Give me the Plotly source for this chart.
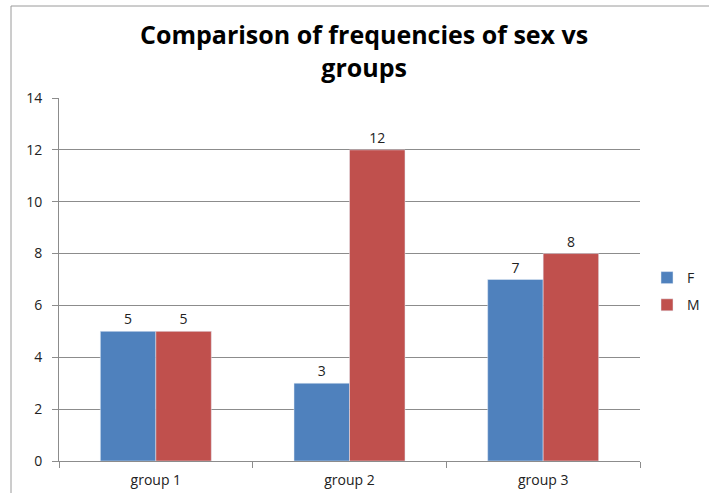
import plotly.graph_objects as go

# Data
groups = ["group 1", "group 2", "group 3"]
female = [5, 3, 7]
male = [5, 12, 8]
y_ticks = [0, 2, 4, 6, 8, 10, 12, 14]

BLUE = "#4F81BD"
RED = "#C0504D"
GRID = "#8C8C8C"
FONT = "Open Sans"
TXT = "#222222"

fig = go.Figure()
fig.add_trace(go.Bar(
    name="F", x=groups, y=female, marker_color=BLUE, legendgroup="F",
    text=[str(v) for v in female], textposition="outside",
    textfont=dict(size=14, color=TXT, family=FONT),
    cliponaxis=False,
))
fig.add_trace(go.Bar(
    name="M", x=groups, y=male, marker_color=RED, legendgroup="M",
    text=[str(v) for v in male], textposition="outside",
    textfont=dict(size=14, color=TXT, family=FONT),
    cliponaxis=False,
))

W, H = 709, 493
L, R, T, B = 59, 69, 98, 32
pw, ph = W - L - R, H - T - B

def px_x(p):
    return (p - L) / pw

def px_y(p):
    return (H - B - p) / ph

# Chart frame: left and top border lines
fig.add_shape(type="line", xref="paper", yref="paper",
              x0=px_x(11), x1=px_x(11), y0=px_y(H + 5), y1=px_y(6),
              line=dict(color="#9A9A9A", width=1))
fig.add_shape(type="line", xref="paper", yref="paper",
              x0=px_x(11), x1=px_x(W + 5), y0=px_y(6), y1=px_y(6),
              line=dict(color="#9A9A9A", width=1))

# Two-line chart title
fig.add_annotation(
    text="<b>Comparison of frequencies of sex vs<br>groups</b>",
    xref="paper", yref="paper", x=px_x(364), y=px_y(51),
    xanchor="center", yanchor="middle", showarrow=False,
    font=dict(family=FONT, size=25, color="black"),
)

fig.update_layout(
    width=W, height=H,
    margin=dict(l=L, r=R, t=T, b=B, autoexpand=False),
    paper_bgcolor="white", plot_bgcolor="white",
    barmode="group", bargap=0.427, bargroupgap=0,
    font=dict(family=FONT, size=13, color=TXT),
    legend=dict(
        x=px_x(647), y=px_y(262), xanchor="left", yanchor="top",
        font=dict(size=14, family=FONT, color=TXT),
        bgcolor="rgba(0,0,0,0)", itemwidth=30, tracegroupgap=6,
    ),
    xaxis=dict(
        showline=True, linecolor=GRID, linewidth=1,
        ticks="outside", tickson="boundaries", ticklen=6, tickcolor=GRID,
        tickfont=dict(size=14, family=FONT, color=TXT),
        showgrid=False, ticklabelstandoff=6,
    ),
    yaxis=dict(
        range=[0, 14], tickvals=y_ticks,
        showline=True, linecolor=GRID, linewidth=1,
        ticks="outside", ticklen=6, tickcolor=GRID,
        showgrid=True, gridcolor=GRID, gridwidth=1,
        zeroline=False,
        tickfont=dict(size=14, family=FONT, color=TXT),
        ticklabelstandoff=7,
    ),
)

fig.write_html("out.html")
